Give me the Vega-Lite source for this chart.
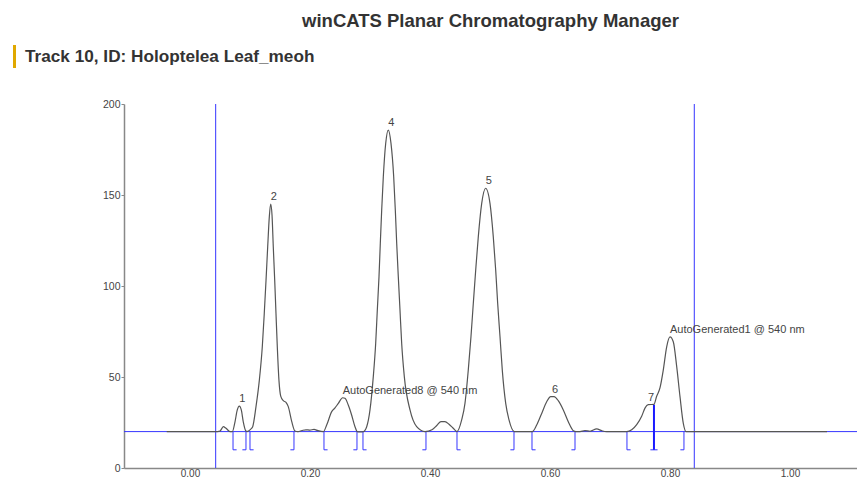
{
  "$schema": "https://vega.github.io/schema/vega-lite/v6.json",
  "width": 733,
  "height": 364,
  "autosize": {"type": "none"},
  "padding": {"left": 124, "top": 104, "right": 0, "bottom": 11},
  "background": "white",
  "title": {
    "text": "winCATS Planar Chromatography Manager",
    "anchor": "middle",
    "frame": "group",
    "font": "Liberation Sans",
    "fontSize": 18.5,
    "fontWeight": "bold",
    "color": "#333333",
    "offset": 15
  },
  "config": {
    "view": {"stroke": null},
    "axis": {
      "grid": false,
      "domainColor": "#888888",
      "domainWidth": 1.5,
      "tickColor": "#888888",
      "tickSize": 3,
      "labelFont": "Liberation Sans",
      "labelFontSize": 10.5,
      "labelColor": "#444444",
      "title": null
    }
  },
  "datasets": {
    "signal": [
      {"rf": -0.0388, "au": 20}, {"rf": 0.0417, "au": 20}, {"rf": 0.05, "au": 20.3}, {"rf": 0.0555, "au": 22.7},
      {"rf": 0.06, "au": 21.8}, {"rf": 0.0667, "au": 20}, {"rf": 0.0705, "au": 20}, {"rf": 0.075, "au": 25.4},
      {"rf": 0.0788, "au": 31.9}, {"rf": 0.0822, "au": 34}, {"rf": 0.0855, "au": 31.9}, {"rf": 0.0888, "au": 25.4},
      {"rf": 0.0928, "au": 20.5}, {"rf": 0.095, "au": 20}, {"rf": 0.0975, "au": 20.3}, {"rf": 0.1008, "au": 21.2},
      {"rf": 0.1045, "au": 22.7}, {"rf": 0.11, "au": 33.7}, {"rf": 0.1155, "au": 48}, {"rf": 0.1205, "au": 66.6},
      {"rf": 0.1238, "au": 85}, {"rf": 0.1267, "au": 103}, {"rf": 0.1295, "au": 121.6}, {"rf": 0.1322, "au": 138},
      {"rf": 0.1345, "au": 145}, {"rf": 0.1367, "au": 139}, {"rf": 0.1388, "au": 121.6}, {"rf": 0.1412, "au": 103},
      {"rf": 0.1433, "au": 85}, {"rf": 0.1455, "au": 66.6}, {"rf": 0.1483, "au": 48}, {"rf": 0.1512, "au": 39.5},
      {"rf": 0.1555, "au": 37}, {"rf": 0.16, "au": 36}, {"rf": 0.1638, "au": 33.7}, {"rf": 0.1695, "au": 25.6},
      {"rf": 0.175, "au": 20.3}, {"rf": 0.18, "au": 20}, {"rf": 0.1867, "au": 20.6}, {"rf": 0.1933, "au": 21},
      {"rf": 0.2, "au": 20.8}, {"rf": 0.2067, "au": 21.2}, {"rf": 0.2133, "au": 20.5}, {"rf": 0.2222, "au": 20},
      {"rf": 0.2278, "au": 23.6}, {"rf": 0.2362, "au": 31}, {"rf": 0.2417, "au": 33}, {"rf": 0.2472, "au": 35.5},
      {"rf": 0.2545, "au": 38.6}, {"rf": 0.2583, "au": 38.3}, {"rf": 0.2638, "au": 34.6}, {"rf": 0.2695, "au": 29},
      {"rf": 0.275, "au": 22.7}, {"rf": 0.2788, "au": 20}, {"rf": 0.2833, "au": 19.9}, {"rf": 0.2888, "au": 20},
      {"rf": 0.2945, "au": 22.7}, {"rf": 0.3, "au": 31.9}, {"rf": 0.3055, "au": 50.2}, {"rf": 0.3095, "au": 68.5},
      {"rf": 0.3122, "au": 86.8}, {"rf": 0.315, "au": 105}, {"rf": 0.3172, "au": 123.5}, {"rf": 0.3195, "au": 141.8},
      {"rf": 0.3222, "au": 160}, {"rf": 0.3262, "au": 178.4}, {"rf": 0.3305, "au": 185.7}, {"rf": 0.335, "au": 178.4},
      {"rf": 0.3395, "au": 160}, {"rf": 0.3422, "au": 141.8}, {"rf": 0.3445, "au": 123.5}, {"rf": 0.3472, "au": 105},
      {"rf": 0.35, "au": 86.8}, {"rf": 0.3528, "au": 68.5}, {"rf": 0.3572, "au": 50.2}, {"rf": 0.3667, "au": 31.9},
      {"rf": 0.3778, "au": 22.7}, {"rf": 0.3917, "au": 20}, {"rf": 0.4033, "au": 21}, {"rf": 0.4117, "au": 23.5},
      {"rf": 0.4183, "au": 25.5}, {"rf": 0.425, "au": 25.5}, {"rf": 0.4317, "au": 24}, {"rf": 0.4383, "au": 22},
      {"rf": 0.445, "au": 20}, {"rf": 0.4528, "au": 26.4}, {"rf": 0.4583, "au": 35.5}, {"rf": 0.4638, "au": 53.8},
      {"rf": 0.4683, "au": 72.1}, {"rf": 0.4722, "au": 90.5}, {"rf": 0.4762, "au": 108.8}, {"rf": 0.4805, "au": 127},
      {"rf": 0.4862, "au": 145.4}, {"rf": 0.4928, "au": 153.7}, {"rf": 0.5, "au": 145.4}, {"rf": 0.5055, "au": 127},
      {"rf": 0.5095, "au": 108.8}, {"rf": 0.5128, "au": 90.5}, {"rf": 0.5167, "au": 72.1}, {"rf": 0.5205, "au": 53.8},
      {"rf": 0.5262, "au": 35.5}, {"rf": 0.5317, "au": 26.4}, {"rf": 0.5405, "au": 20}, {"rf": 0.55, "au": 20},
      {"rf": 0.5617, "au": 20}, {"rf": 0.5705, "au": 20}, {"rf": 0.5778, "au": 23.6}, {"rf": 0.5862, "au": 30},
      {"rf": 0.5945, "au": 36.4}, {"rf": 0.6012, "au": 39.2}, {"rf": 0.6067, "au": 39.2}, {"rf": 0.6138, "au": 37},
      {"rf": 0.6222, "au": 31.9}, {"rf": 0.6305, "au": 25.4}, {"rf": 0.6388, "au": 20.5}, {"rf": 0.6433, "au": 20},
      {"rf": 0.65, "au": 20}, {"rf": 0.6583, "au": 20.5}, {"rf": 0.6667, "au": 20.2}, {"rf": 0.6778, "au": 21.5},
      {"rf": 0.6862, "au": 20.5}, {"rf": 0.6945, "au": 20}, {"rf": 0.7278, "au": 20}, {"rf": 0.7362, "au": 21},
      {"rf": 0.7445, "au": 23.8}, {"rf": 0.7528, "au": 28.4}, {"rf": 0.7583, "au": 32.9}, {"rf": 0.7638, "au": 34.8},
      {"rf": 0.7733, "au": 35}, {"rf": 0.7778, "au": 39.4}, {"rf": 0.7833, "au": 44}, {"rf": 0.7888, "au": 53.8},
      {"rf": 0.7945, "au": 66.6}, {"rf": 0.8, "au": 72}, {"rf": 0.8055, "au": 69.4}, {"rf": 0.8112, "au": 55.7},
      {"rf": 0.8167, "au": 39.2}, {"rf": 0.8222, "au": 24.5}, {"rf": 0.8267, "au": 20}, {"rf": 0.8333, "au": 20},
      {"rf": 1.0617, "au": 20}
    ],
    "vlines": [{"rf": 0.0428}, {"rf": 0.8405}],
    "hlines": [{"au": 20}],
    "ticks": [
      {"rf": 0.0717, "top": 20, "bot": 10}, {"rf": 0.0933, "top": 20, "bot": 10},
      {"rf": 0.1, "top": 20, "bot": 10}, {"rf": 0.1733, "top": 20, "bot": 10},
      {"rf": 0.2233, "top": 20, "bot": 10}, {"rf": 0.2783, "top": 20, "bot": 10},
      {"rf": 0.2883, "top": 20, "bot": 10}, {"rf": 0.3933, "top": 20, "bot": 10},
      {"rf": 0.445, "top": 20, "bot": 10}, {"rf": 0.54, "top": 20, "bot": 10},
      {"rf": 0.57, "top": 20, "bot": 10}, {"rf": 0.6417, "top": 20, "bot": 10},
      {"rf": 0.7283, "top": 20, "bot": 10}, {"rf": 0.8233, "top": 20, "bot": 10}
    ],
    "feet": [
      {"a": 0.0717, "b": 0.0777, "au": 10}, {"a": 0.0933, "b": 0.0873, "au": 10},
      {"a": 0.1, "b": 0.106, "au": 10}, {"a": 0.1733, "b": 0.1673, "au": 10},
      {"a": 0.2233, "b": 0.2293, "au": 10}, {"a": 0.2783, "b": 0.2723, "au": 10},
      {"a": 0.2883, "b": 0.2943, "au": 10}, {"a": 0.3933, "b": 0.3873, "au": 10},
      {"a": 0.445, "b": 0.451, "au": 10}, {"a": 0.54, "b": 0.534, "au": 10},
      {"a": 0.57, "b": 0.576, "au": 10}, {"a": 0.6417, "b": 0.6357, "au": 10},
      {"a": 0.7283, "b": 0.7343, "au": 10}, {"a": 0.8233, "b": 0.8173, "au": 10},
      {"a": 0.7673, "b": 0.7793, "au": 10}
    ],
    "split": [{"rf": 0.7733, "top": 34.8, "bot": 10}],
    "labels": [
      {"rf": 0.0822, "au": 34, "label": "1"},
      {"rf": 0.1345, "au": 145, "label": "2"},
      {"rf": 0.2545, "au": 38.6, "label": "AutoGenerated8 @ 540 nm"},
      {"rf": 0.3305, "au": 185.7, "label": "4"},
      {"rf": 0.4928, "au": 153.7, "label": "5"},
      {"rf": 0.6033, "au": 39.2, "label": "6"},
      {"rf": 0.7633, "au": 34.8, "label": "7"},
      {"rf": 0.8, "au": 72, "label": "AutoGenerated1 @ 540 nm"}
    ]
  },
  "layer": [
    {
      "data": {"name": "hlines"},
      "mark": {"type": "rule", "color": "#3535ff", "strokeWidth": 1},
      "encoding": {
        "y": {"field": "au", "type": "quantitative", "scale": {"domain": [0, 200], "nice": false, "zero": false},
          "axis": {"values": [0, 50, 100, 150, 200], "labelPadding": 1, "tickSize": 3}}
      }
    },
    {
      "data": {"name": "vlines"},
      "mark": {"type": "rule", "color": "#3535ff", "strokeWidth": 1},
      "encoding": {
        "x": {"field": "rf", "type": "quantitative", "scale": {"domain": [-0.11, 1.1117], "nice": false, "zero": false},
          "axis": {"values": [0, 0.2, 0.4, 0.6, 0.8, 1.0], "format": ".2f", "ticks": false, "labelPadding": 0, "labelFontSize": 10}}
      }
    },
    {
      "data": {"name": "ticks"},
      "mark": {"type": "rule", "color": "#3535ff", "strokeWidth": 1},
      "encoding": {
        "x": {"field": "rf", "type": "quantitative"},
        "y": {"field": "top", "type": "quantitative"},
        "y2": {"field": "bot"}
      }
    },
    {
      "data": {"name": "feet"},
      "mark": {"type": "rule", "color": "#3535ff", "strokeWidth": 1},
      "encoding": {
        "x": {"field": "a", "type": "quantitative"},
        "x2": {"field": "b"},
        "y": {"field": "au", "type": "quantitative"}
      }
    },
    {
      "data": {"name": "split"},
      "mark": {"type": "rule", "color": "#1a1aff", "strokeWidth": 2},
      "encoding": {
        "x": {"field": "rf", "type": "quantitative"},
        "y": {"field": "top", "type": "quantitative"},
        "y2": {"field": "bot"}
      }
    },
    {
      "data": {"name": "signal"},
      "mark": {"type": "line", "strokeWidth": 1.2, "interpolate": "monotone"},
      "encoding": {
        "x": {"field": "rf", "type": "quantitative"},
        "y": {"field": "au", "type": "quantitative"},
        "color": {
          "datum": "Track 10, ID: Holoptelea Leaf_meoh",
          "type": "nominal",
          "scale": {"range": ["#555555"]},
          "legend": {
            "orient": "none",
            "legendX": -121,
            "legendY": -59,
            "title": null,
            "padding": 0,
            "labelFont": "Liberation Sans",
            "labelFontSize": 17.2,
            "labelFontWeight": "bold",
            "labelColor": "#333333",
            "labelLimit": 0,
            "labelOffset": -1,
            "symbolType": "M-0.13,-1H0.13V1H-0.13Z",
            "symbolSize": 529,
            "symbolFillColor": "#E0A800",
            "symbolStrokeColor": "#E0A800",
            "symbolStrokeWidth": 0
          }
        }
      }
    },
    {
      "data": {"name": "labels"},
      "mark": {"type": "text", "align": "left", "baseline": "bottom", "dy": -2, "dx": 0, "font": "Liberation Sans", "fontSize": 11, "color": "#444444"},
      "encoding": {
        "x": {"field": "rf", "type": "quantitative"},
        "y": {"field": "au", "type": "quantitative"},
        "text": {"field": "label"}
      }
    }
  ]
}
